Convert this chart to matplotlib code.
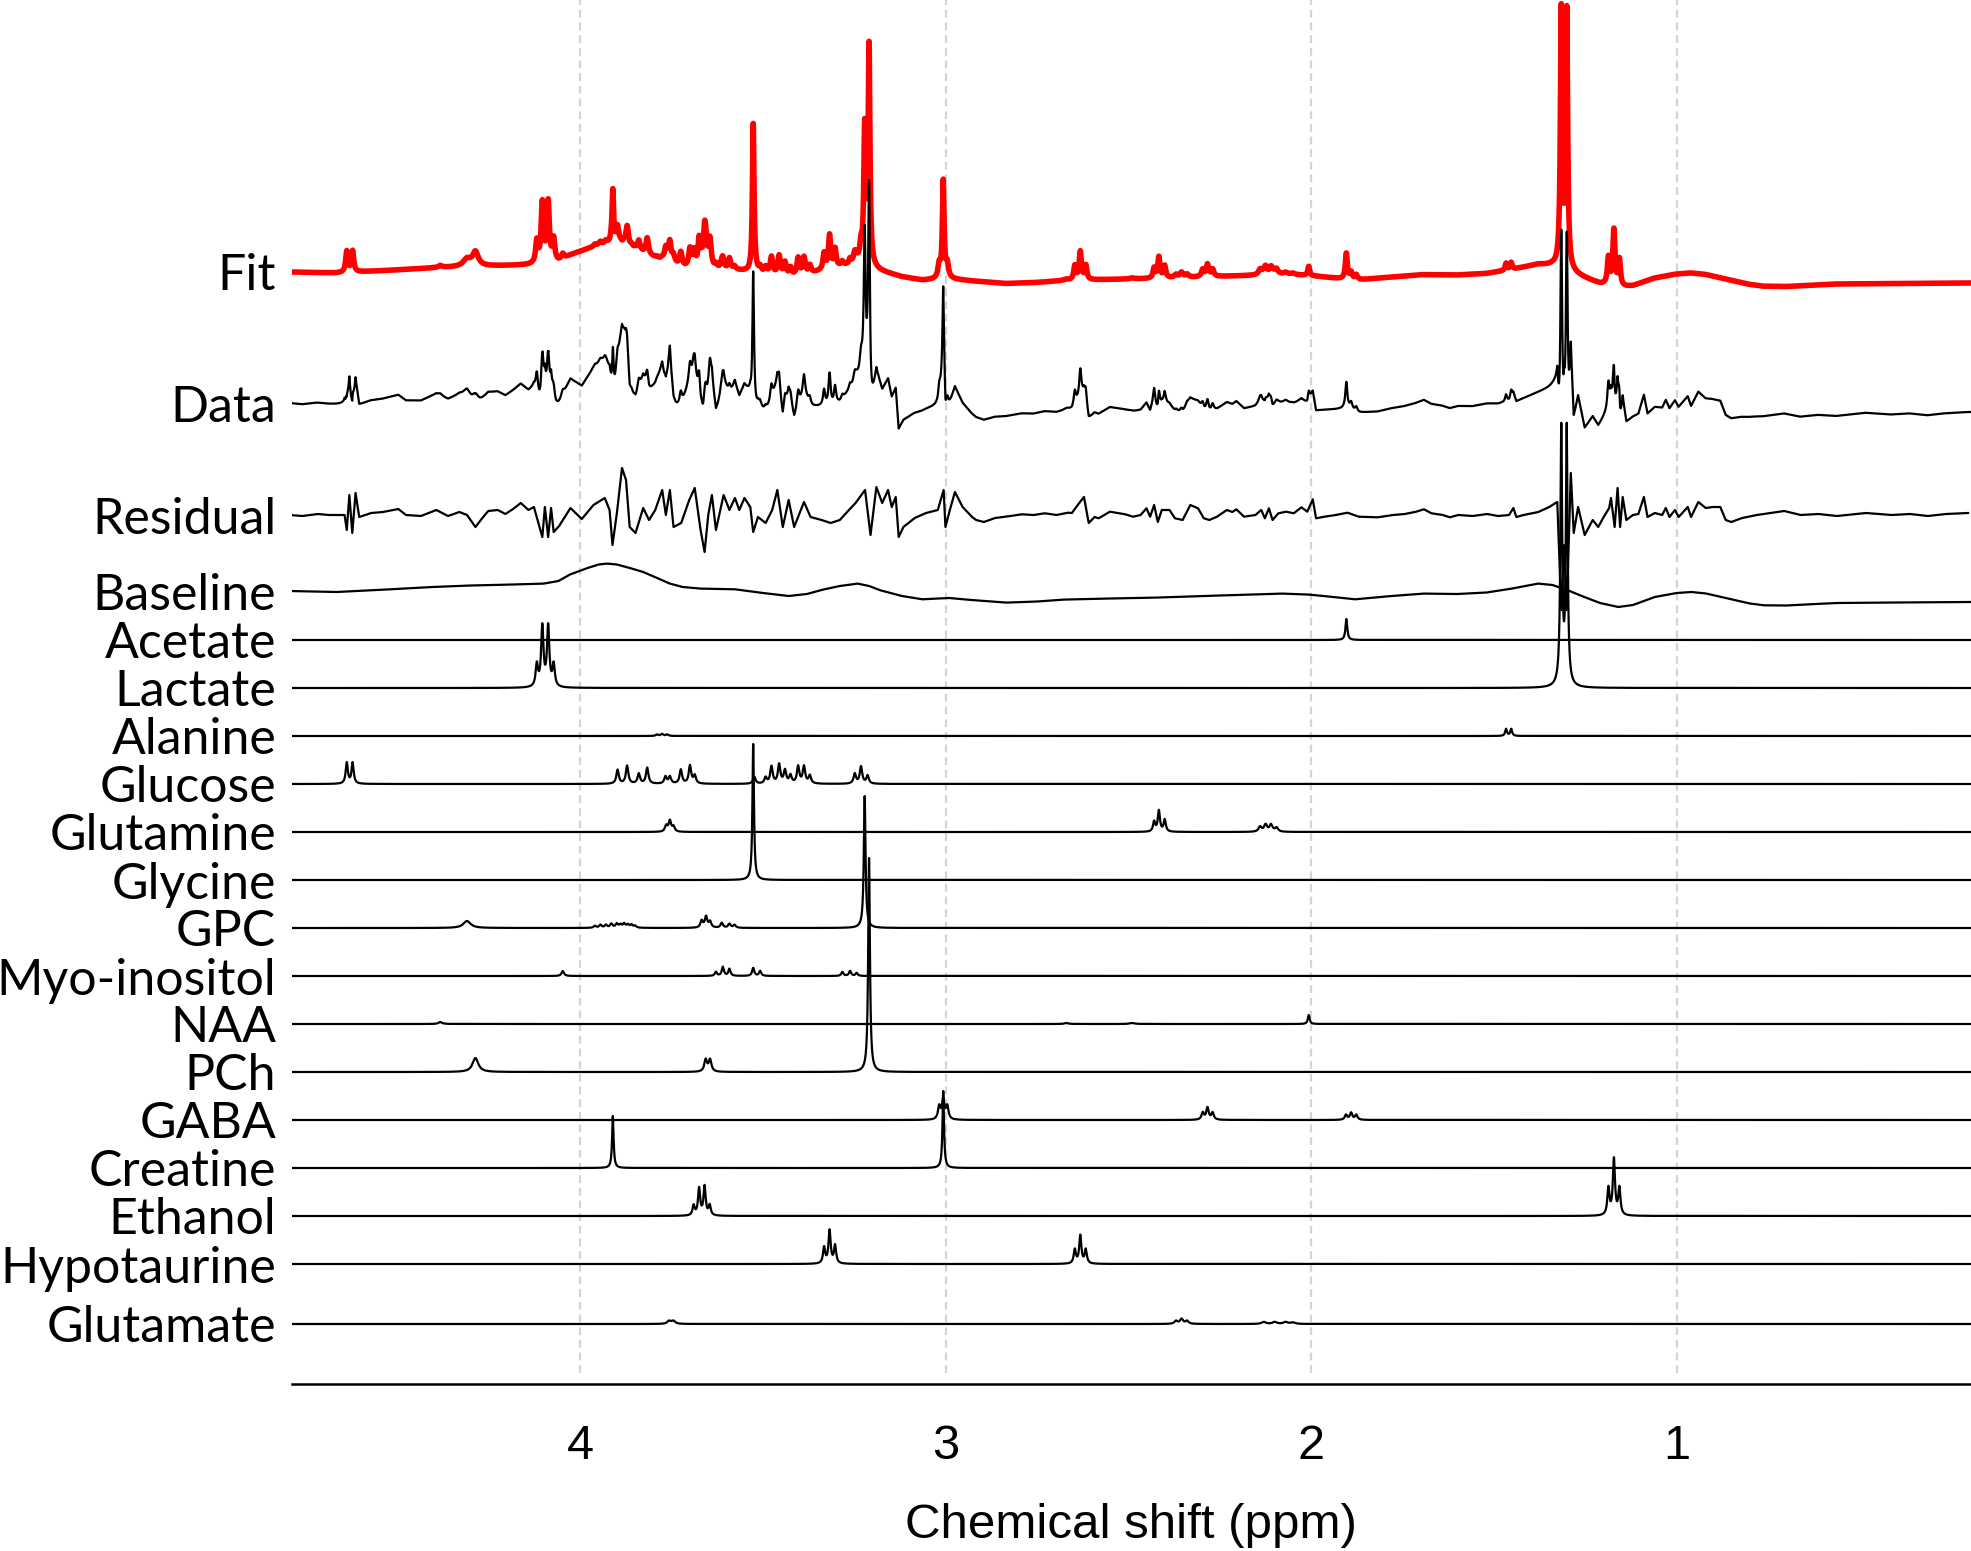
import numpy as np
import matplotlib.pyplot as plt

# x range of the chemical shift axis (ppm, drawn high -> low)
ppm_left, ppm_right = 4.79, 0.195

# trace names from top to bottom and the level each one starts at
row_names = ["Fit", "Data", "Residual", "Baseline", "Acetate", "Lactate", "Alanine",
             "Glucose", "Glutamine", "Glycine", "GPC", "Myo-inositol", "NAA", "PCh",
             "GABA", "Creatine", "Ethanol", "Hypotaurine", "Glutamate"]
row_offsets = [1101, 970, 858, 782, 733, 685, 637, 589, 541, 493, 445, 397, 349,
               301, 253, 205, 157, 109, 49]

# fitted peaks of every metabolite: (shift ppm, height, half width ppm)
acetate = [(1.904, 21, 0.003)]
lactate = [(4.119, 22, 0.0038), (4.104, 60, 0.0038), (4.088, 60, 0.0038),
           (4.073, 22, 0.0038), (1.316, 256, 0.0029), (1.301, 256, 0.0029)]
alanine = [(3.790, 1.5, 0.004), (3.776, 2, 0.004), (3.762, 1.5, 0.004),
           (1.467, 7, 0.003), (1.453, 7, 0.003)]
glucose = [(4.639, 21, 0.0035), (4.623, 21, 0.0035), (3.898, 14, 0.004),
           (3.872, 18, 0.004), (3.840, 10, 0.004), (3.817, 16, 0.004),
           (3.767, 7, 0.004), (3.755, 7, 0.004), (3.725, 14, 0.004),
           (3.700, 18, 0.004), (3.687, 8, 0.004), (3.524, 7, 0.004),
           (3.493, 6, 0.004), (3.477, 17, 0.004), (3.456, 19, 0.004),
           (3.440, 13, 0.004), (3.425, 8, 0.004), (3.404, 17, 0.004),
           (3.388, 17, 0.004), (3.372, 8, 0.004), (3.249, 10, 0.004),
           (3.232, 17, 0.004), (3.214, 8, 0.004)]
glutamine = [(3.765, 6, 0.004), (3.755, 11, 0.004), (3.745, 5, 0.004),
             (2.430, 10, 0.0035), (2.417, 21, 0.0035), (2.401, 12, 0.0035),
             (2.140, 5, 0.005), (2.125, 7, 0.005), (2.110, 7, 0.005), (2.095, 4, 0.005)]
glycine = [(3.527, 136, 0.0025)]
gpc = [(4.310, 7, 0.012), (3.960, 2, 0.004), (3.945, 3, 0.004), (3.930, 3, 0.004),
       (3.915, 4, 0.004), (3.900, 4, 0.004), (3.890, 3, 0.004), (3.880, 4, 0.004),
       (3.870, 3, 0.004), (3.860, 3, 0.004), (3.850, 2, 0.004), (3.668, 7, 0.004),
       (3.656, 11, 0.004), (3.645, 6, 0.004), (3.613, 5, 0.004), (3.592, 4, 0.004),
       (3.578, 3, 0.004), (3.222, 132, 0.0028)]
myo_inositol = [(4.048, 5, 0.004), (3.629, 4, 0.0035), (3.610, 9, 0.0035),
                (3.592, 7, 0.0035), (3.527, 8, 0.0035), (3.508, 5, 0.0035),
                (3.283, 4, 0.0035), (3.262, 5, 0.0035), (3.244, 3, 0.0035)]
naa = [(4.383, 2, 0.006), (2.670, 1, 0.006), (2.490, 1, 0.008), (2.007, 9, 0.003)]
pch = [(4.287, 14, 0.0095), (3.657, 12, 0.0045), (3.645, 12, 0.0045), (3.210, 214, 0.0028)]
gaba = [(3.018, 13, 0.004), (3.007, 20, 0.004), (2.996, 13, 0.004),
        (2.297, 7, 0.004), (2.284, 12, 0.004), (2.270, 7, 0.004),
        (1.905, 5, 0.004), (1.891, 7, 0.004), (1.877, 5, 0.004)]
creatine = [(3.911, 52, 0.0025), (3.007, 77, 0.0025)]
ethanol = [(3.690, 10, 0.0035), (3.675, 27, 0.0035), (3.660, 29, 0.0035),
           (3.646, 10, 0.0035), (1.187, 27, 0.0035), (1.172, 56, 0.0035),
           (1.157, 27, 0.0035)]
hypotaurine = [(3.333, 16, 0.0035), (3.318, 33, 0.0035), (3.303, 18, 0.0035),
               (2.647, 14, 0.0035), (2.632, 28, 0.0035), (2.617, 14, 0.0035)]
glutamate = [(3.757, 3, 0.006), (3.745, 3, 0.006), (2.370, 3, 0.005),
             (2.355, 5, 0.005), (2.340, 3, 0.005), (2.130, 2, 0.007),
             (2.100, 2, 0.007), (2.070, 2, 0.007), (2.050, 1.5, 0.007)]

metabolites = [acetate, lactate, alanine, glucose, glutamine, glycine, gpc,
               myo_inositol, naa, pch, gaba, creatine, ethanol, hypotaurine, glutamate]

# smooth baseline (relative to its left end)
base_ppm = [4.797, 4.667, 4.530, 4.404, 4.300, 4.195, 4.100, 4.060, 4.027, 3.980,
            3.950, 3.927, 3.900, 3.860, 3.828, 3.790, 3.755, 3.720, 3.671, 3.577,
            3.500, 3.430, 3.380, 3.336, 3.290, 3.241, 3.210, 3.179, 3.120, 3.064,
            3.020, 2.991, 2.930, 2.834, 2.750, 2.677, 2.550, 2.425, 2.250, 2.079,
            2.006, 1.940, 1.880, 1.780, 1.692, 1.600, 1.520, 1.450, 1.400, 1.379,
            1.340, 1.300, 1.260, 1.210, 1.160, 1.120, 1.060, 1.000, 0.960, 0.920,
            0.860, 0.800, 0.761, 0.700, 0.620, 0.562, 0.400, 0.198]
base_val = [0, -1, 1.5, 4, 5.5, 6.4, 7.4, 10, 16.7, 23,
            26.5, 27.4, 26.5, 22.5, 19, 13, 7.4, 4, 2.4, 1.7,
            -2, -5, -3, 1.4, 5, 7.4, 5, 0.7, -5, -8.3,
            -7.5, -7, -9, -11.6, -10.5, -8.6, -7.5, -6.6, -4.5, -2.6,
            -3.6, -6, -8.3, -5, -2.6, -3, -1.5, 2.5, 6, 7.4,
            6, 1, -5, -12, -16, -14, -6, -2, -1, -2.5,
            -7.5, -12.5, -14.3, -14.5, -13, -12, -11.5, -11]

# residual (data minus fit)
res_ppm = [4.797, 4.760, 4.718, 4.687, 4.660, 4.645, 4.639, 4.632, 4.624, 4.615,
           4.605, 4.572, 4.540, 4.498, 4.477, 4.436, 4.394, 4.362, 4.331, 4.310,
           4.287, 4.268, 4.252, 4.226, 4.205, 4.184, 4.163, 4.142, 4.127, 4.104,
           4.097, 4.088, 4.080, 4.073, 4.058, 4.027, 3.996, 3.964, 3.933, 3.920,
           3.912, 3.900, 3.886, 3.875, 3.865, 3.849, 3.828, 3.812, 3.795, 3.776,
           3.766, 3.755, 3.745, 3.724, 3.702, 3.687, 3.671, 3.660, 3.650, 3.640,
           3.629, 3.608, 3.592, 3.577, 3.565, 3.551, 3.535, 3.527, 3.514, 3.493,
           3.475, 3.461, 3.446, 3.430, 3.415, 3.388, 3.370, 3.340, 3.315, 3.290,
           3.265, 3.247, 3.221, 3.206, 3.190, 3.174, 3.158, 3.148, 3.137, 3.129,
           3.116, 3.085, 3.054, 3.022, 3.006, 3.001, 2.989, 2.975, 2.954, 2.928,
           2.917, 2.896, 2.865, 2.823, 2.792, 2.760, 2.729, 2.697, 2.666, 2.655,
           2.635, 2.622, 2.609, 2.593, 2.582, 2.551, 2.509, 2.488, 2.467, 2.451,
           2.441, 2.430, 2.420, 2.409, 2.388, 2.373, 2.352, 2.331, 2.310, 2.294,
           2.279, 2.258, 2.231, 2.216, 2.205, 2.184, 2.153, 2.137, 2.127, 2.116,
           2.106, 2.090, 2.069, 2.048, 2.027, 2.011, 1.996, 1.987, 1.964, 1.933,
           1.901, 1.870, 1.818, 1.776, 1.744, 1.713, 1.692, 1.671, 1.640, 1.621,
           1.598, 1.558, 1.519, 1.489, 1.459, 1.447, 1.439, 1.419, 1.379, 1.349,
           1.327, 1.316, 1.308, 1.301, 1.290, 1.282, 1.270, 1.252, 1.230, 1.215,
           1.200, 1.185, 1.180, 1.170, 1.162, 1.155, 1.148, 1.138, 1.120, 1.105,
           1.090, 1.080, 1.060, 1.040, 1.030, 1.020, 1.005, 0.995, 0.970, 0.961,
           0.941, 0.921, 0.901, 0.881, 0.866, 0.851, 0.821, 0.781, 0.706, 0.661,
           0.612, 0.562, 0.482, 0.412, 0.362, 0.313, 0.263, 0.203]
res_val = [0, -1, 1, 0, 0, 0, -15, 20, -18, 22,
           -2, 2, 3, 6, 0, -1, 5, -1, 3, 0,
           -12, -3, 4, 5, 1, 6, 12, 5, 8, -22,
           8, -22, 7, -17, -11, 7, -4, 10, 17, 5,
           -30, 2, 47, 35, -12, -18, 7, -5, 5, 25,
           0, 25, -12, -8, 15, 27, -15, -37, 0, 20,
           -15, 20, 5, 17, 5, 17, 8, -17, -2, -8,
           5, 25, -12, 15, -12, 13, -2, -5, -8, -5,
           5, 12, 25, -20, 28, 12, 25, 8, 18, -22,
           -12, -3, 2, 5, 25, -12, 5, 23, 8, -2,
           -5, -7, -3, -1, 0.7, 0, 1.7, 0, 2.3, 2,
           12, 18, -8, -2, -3.3, 3.3, 0.7, -1.7, 0, 6.7,
           -1.7, 10, -7, 5, 5, -3.3, -5, 10, 6.7, -3.3,
           -5, -1.7, 5, 3, 5.7, -1.7, 0, 5, -3.3, 6.7,
           -5, 1.7, 3.3, 1.7, 7.7, 3.3, 15.7, -3.3, -1.7, 0,
           2.3, -1.7, -2.3, 0, 1, 3.3, 5.7, 1.7, 0, -2.3,
           0, -1, 1, -1, 0, 7, -2, 0, 3, 8,
           13, -95, -30, -95, 42, -18, 8, -20, -5, -12,
           -2, 7, 17, -12, 27, -12, 18, -5, 0, 1,
           18, -2, 2, 0, 7, -2, 5, -2, 8, -2,
           13, 7, 8, 8, -5, -7, -3, 0, 4, 0,
           1, -1, 2, 0, 1, -1, 1, 2]

# build the traces on a fine shift grid
x = np.arange(ppm_right, ppm_left, 0.0005)


def lineshape(peaks):
    y = np.zeros_like(x)
    for c, h, w in peaks:
        y += h / (1 + ((x - c) / w) ** 2)
    return y


comps = [lineshape(p) for p in metabolites]
baseline = np.interp(x, base_ppm[::-1], base_val[::-1])
fit = baseline + np.sum(comps, axis=0)
fit0 = np.interp(ppm_left, x, fit)
data = fit + np.interp(x, res_ppm[::-1], res_val[::-1])

fig = plt.figure(figsize=(19.71, 15.51), dpi=100)
ax = fig.add_axes([291.6 / 1971, 1 - 1373 / 1551, 1 - 291.6 / 1971, 1373 / 1551])

for v in [4, 3, 2, 1]:
    ax.axvline(v, color="#d4d4d4", lw=1.6, ls=(0, (3.5, 2.2)), zorder=0)

lw = 1.6
ax.plot(x, row_offsets[0] + fit - fit0, color="#ff0000", lw=4, zorder=2)
ax.plot(x, row_offsets[1] + data - fit0, color="black", lw=lw, zorder=3)
ax.plot(res_ppm, row_offsets[2] + np.array(res_val), color="black", lw=lw, zorder=3)
ax.plot(base_ppm, row_offsets[3] + np.array(base_val), color="black", lw=lw, zorder=3)
for off, comp in zip(row_offsets[4:], comps):
    ax.plot(x, off + comp, color="black", lw=lw, zorder=3)

ax.set_xlim(ppm_left, ppm_right)
ax.set_ylim(0, 1373)

for s in ["top", "right", "left"]:
    ax.spines[s].set_visible(False)
ax.spines["bottom"].set_position(("outward", 8))
ax.spines["bottom"].set_linewidth(1.8)

ax.set_xticks([4, 3, 2, 1])
ax.set_xticklabels(["4", "3", "2", "1"], fontsize=35, family="Liberation Sans")
ax.tick_params(axis="x", length=0, pad=29)

ax.set_yticks(row_offsets)
ax.set_yticklabels(row_names, fontsize=36, family="Lato")
ax.tick_params(axis="y", length=0, pad=11)

fig.text(1131 / 1971, 1 - 1526 / 1551, "Chemical shift (ppm)", fontsize=35.5,
         family="Liberation Sans", ha="center", va="center")

fig.savefig("out.png", dpi=100)
